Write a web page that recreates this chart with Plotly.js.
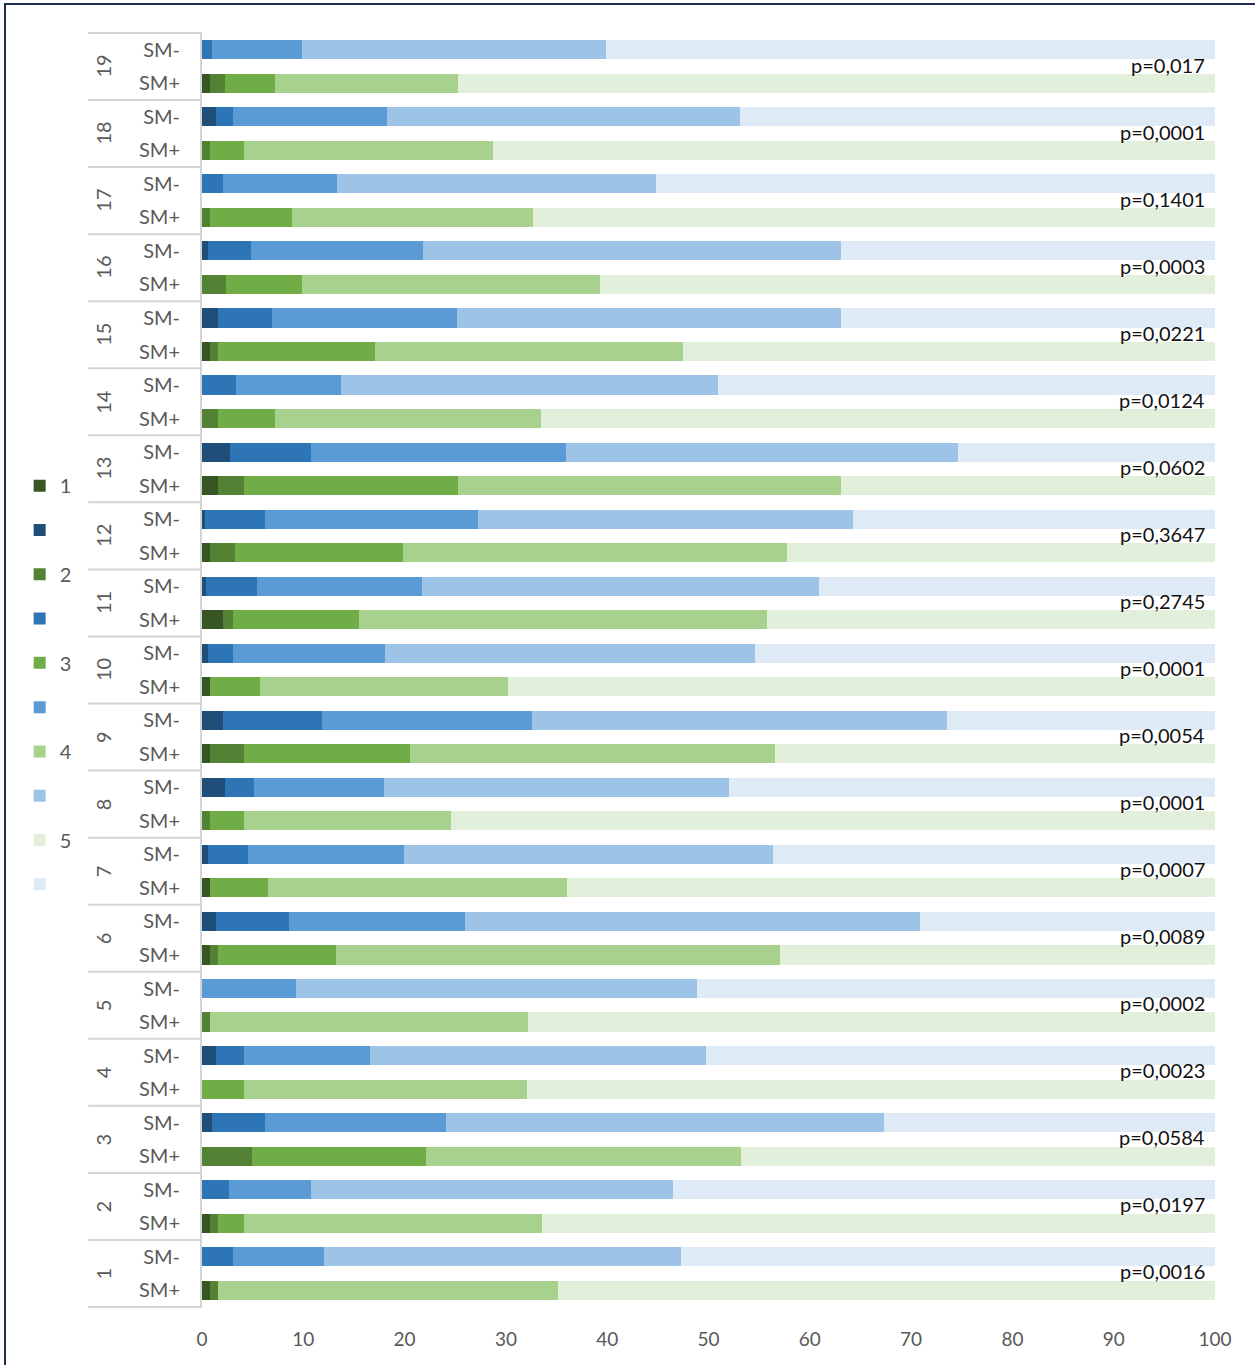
<!DOCTYPE html>
<html>
<head>
<meta charset="utf-8">
<script src="https://cdn.plot.ly/plotly-3.0.1.min.js"></script>
<style>
  html, body { margin: 0; padding: 0; background: #fff; }
  #chart { position: absolute; left: 0; top: 0; width: 1255px; height: 1365px; }
  #frame { position: absolute; left: 4px; top: 3px; width: 1260px; height: 1370px;
           border: 2px solid #1f2d4f; pointer-events: none; box-sizing: border-box; }
</style>
</head>
<body>
<div id="chart"></div>
<div id="frame"></div>
<script>
// Groups 1..19 (bottom to top)
const groups = ['1','2','3','4','5','6','7','8','9','10','11','12','13','14','15','16','17','18','19'];
const subLabels = ['SM+', 'SM-'];
const levelNames = ['1', '2', '3', '4', '5'];
const pValues = ['p=0,0016','p=0,0197','p=0,0584','p=0,0023','p=0,0002','p=0,0089','p=0,0007','p=0,0001','p=0,0054','p=0,0001',
                 'p=0,2745','p=0,3647','p=0,0602','p=0,0124','p=0,0221','p=0,0003','p=0,1401','p=0,0001','p=0,017'];

// SM- (blue) percentages per level, groups 1..19
const smMinus1 = [0, 0, 1.0, 1.4, 0, 1.4, 0.6, 2.3, 2.1, 0.6, 0.4, 0.3, 2.8, 0, 1.6, 0.6, 0, 1.4, 0];
const smMinus2 = [3.1, 2.7, 5.2, 2.7, 0, 7.2, 3.9, 2.8, 9.7, 2.5, 5.0, 5.9, 8.0, 3.4, 5.3, 4.2, 2.1, 1.7, 1.0];
const smMinus3 = [8.9, 8.1, 17.9, 12.5, 9.3, 17.4, 15.4, 12.9, 20.8, 15.0, 16.3, 21.0, 25.1, 10.3, 18.3, 17.0, 11.2, 15.2, 8.9];
const smMinus4 = [35.3, 35.7, 43.2, 33.2, 39.6, 44.9, 36.5, 34.0, 40.9, 36.5, 39.2, 37.1, 38.7, 37.2, 37.9, 41.3, 31.5, 34.8, 30.0];
const smMinus5 = [52.7, 53.5, 32.7, 50.2, 51.1, 29.1, 43.6, 48.0, 26.5, 45.4, 39.1, 35.7, 25.4, 49.1, 36.9, 36.9, 55.2, 46.9, 60.1];

// SM+ (green) percentages per level, groups 1..19
const smPlus1 = [0.8, 0.8, 0, 0, 0, 0.8, 0.8, 0, 0.8, 0.8, 2.1, 0.8, 1.6, 0, 0.8, 0, 0, 0, 0.8];
const smPlus2 = [0.8, 0.8, 4.9, 0, 0.8, 0.8, 0, 0.8, 3.3, 0, 1.0, 2.5, 2.5, 1.6, 0.8, 2.4, 0.8, 0.8, 1.5];
const smPlus3 = [0, 2.5, 17.2, 4.1, 0, 11.6, 5.7, 3.3, 16.4, 4.9, 12.4, 16.5, 21.2, 5.6, 15.5, 7.5, 8.1, 3.3, 4.9];
const smPlus4 = [33.5, 29.5, 31.1, 28.0, 31.4, 43.9, 29.5, 20.5, 36.1, 24.5, 40.3, 37.9, 37.8, 26.3, 30.4, 29.4, 23.8, 24.6, 18.1];
const smPlus5 = [64.9, 66.4, 46.8, 67.9, 67.8, 42.9, 64.0, 75.4, 43.4, 69.8, 44.2, 42.3, 36.9, 66.5, 52.5, 60.7, 67.3, 71.3, 74.7];

const greens = ['#375623', '#548235', '#70ad47', '#a9d18e', '#e2efda'];
const blues  = ['#1f4e79', '#2e75b6', '#5b9bd5', '#9dc3e6', '#deebf7'];

const plusLevels = [smPlus1, smPlus2, smPlus3, smPlus4, smPlus5];
const minusLevels = [smMinus1, smMinus2, smMinus3, smMinus4, smMinus5];

const yPlus = groups.map((g, i) => 2 * i);
const yMinus = groups.map((g, i) => 2 * i + 1);

const traces = [];
for (let k = 0; k < 5; k++) {
  traces.push({
    type: 'bar', orientation: 'h', name: levelNames[k], legendgroup: 'g' + k,
    x: plusLevels[k], y: yPlus,
    marker: { color: greens[k], line: { width: 0 } }, hoverinfo: 'x'
  });
  traces.push({
    type: 'bar', orientation: 'h', name: ' ', legendgroup: 'b' + k,
    x: minusLevels[k], y: yMinus,
    marker: { color: blues[k], line: { width: 0 } }, hoverinfo: 'x'
  });
}

const tickvals = [];
const ticktext = [];
groups.forEach((g, i) => {
  tickvals.push(2 * i, 2 * i + 1);
  ticktext.push(subLabels[0], subLabels[1]);
});

const nSlots = groups.length * 2;
const shapes = [];
for (let i = 0; i <= groups.length; i++) {
  shapes.push({
    type: 'line', xref: 'paper', yref: 'paper',
    x0: -0.1125, x1: 0, y0: (2 * i) / nSlots, y1: (2 * i) / nSlots,
    line: { color: '#d4d4d4', width: 2 }
  });
}

const annotations = [];
groups.forEach((g, i) => {
  annotations.push({
    xref: 'paper', yref: 'y', x: -0.0977, y: 2 * i + 0.5,
    xanchor: 'center', yanchor: 'middle',
    text: g, showarrow: false, textangle: -90,
    font: { family: 'Lato, sans-serif', size: 20, color: '#595959' }
  });
  annotations.push({
    xref: 'x', yref: 'y', x: 99.2, y: 2 * i + 0.56, xanchor: 'right',
    text: pValues[i], showarrow: false,
    font: { family: 'Lato, sans-serif', size: 20, color: '#111111' }
  });
});

const layout = {
  width: 1255, height: 1365,
  margin: { l: 202, r: 40, t: 33, b: 58 },
  paper_bgcolor: '#ffffff', plot_bgcolor: '#ffffff',
  barmode: 'stack', bargap: 0.43,
  showlegend: true,
  legend: {
    x: -0.18, xanchor: 'left', y: 0.66, yanchor: 'top',
    traceorder: 'grouped', tracegroupgap: 15.3,
    itemwidth: 30,
    font: { family: 'Lato, sans-serif', size: 20, color: '#595959' },
    bgcolor: 'rgba(0,0,0,0)'
  },
  xaxis: {
    range: [0, 100], dtick: 10, tick0: 0,
    showgrid: false, zeroline: false, showline: false,
    ticks: 'outside', ticklen: 0, ticklabelstandoff: 15,
    tickfont: { family: 'Lato, sans-serif', size: 19, color: '#595959' }
  },
  yaxis: {
    range: [-0.5, nSlots - 0.5],
    tickmode: 'array', tickvals: tickvals, ticktext: ticktext,
    showgrid: false, zeroline: false,
    showline: true, linecolor: '#d4d4d4', linewidth: 2,
    ticks: 'outside', ticklen: 16, tickcolor: 'rgba(0,0,0,0)',
    tickfont: { family: 'Lato, sans-serif', size: 20, color: '#595959' }
  },
  shapes: shapes,
  annotations: annotations
};

Plotly.newPlot('chart', traces, layout, { displayModeBar: false, responsive: false });
</script>
</body>
</html>
